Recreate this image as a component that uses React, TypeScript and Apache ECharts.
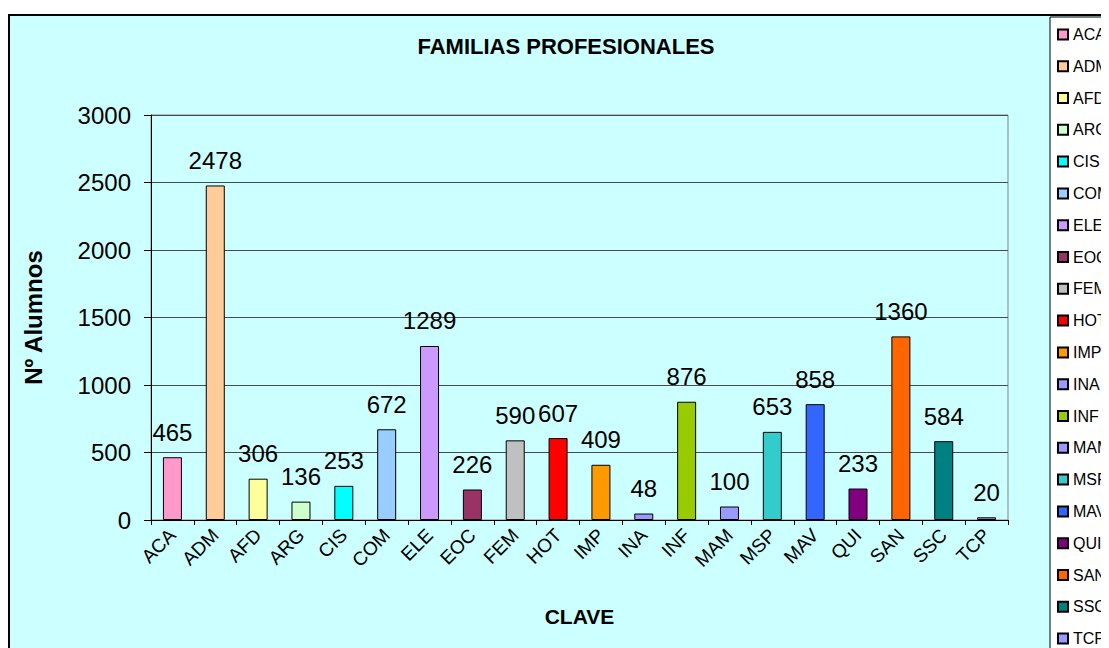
import React, { useEffect, useRef } from "react";
import * as echarts from "echarts";

const categories = ["ACA","ADM","AFD","ARG","CIS","COM","ELE","EOC","FEM","HOT","IMP","INA","INF","MAM","MSP","MAV","QUI","SAN","SSC","TCP"];
const values = [465,2478,306,136,253,672,1289,226,590,607,409,48,876,100,653,858,233,1360,584,20];
const colors = ["#FF99CC","#FFCC99","#FFFF99","#CCFFCC","#00FFFF","#99CCFF","#CC99FF","#993366","#C0C0C0","#FF0000","#FF9900","#9999FF","#99CC00","#9999FF","#33CCCC","#3366FF","#800080","#FF6600","#008080","#9999FF"];
const yTicks = [0, 500, 1000, 1500, 2000, 2500, 3000];

const FONT = "'Liberation Sans', Arial, sans-serif";

export default function App() {
  const ref = useRef<HTMLDivElement>(null);
  useEffect(() => {
    if (!ref.current) return;
    const chart = echarts.init(ref.current, null, { renderer: "svg" });
    const series = categories.map((c, i) => ({
      name: c,
      type: "bar",
      stack: "all",
      barWidth: 19,
      data: categories.map((_, j) => (j === i ? values[i] : "-")),
      itemStyle: { color: colors[i], borderColor: "#000", borderWidth: 1 },
      label: {
        show: true,
        position: "top",
        distance: 13,
        color: "#000",
        fontSize: 24,
        fontFamily: FONT,
      },
      z: 3,
    }));
    chart.setOption({
      animation: false,
      backgroundColor: "#ffffff",
      textStyle: { fontFamily: FONT },
      graphic: [
        {
          type: "rect",
          z: -100,
          silent: true,
          shape: { x: 1, y: 7, width: 1300, height: 900 },
          style: { fill: "#CCFFFF", stroke: "#000", lineWidth: 2 },
        },
        {
          type: "text",
          z: 10,
          x: 558,
          y: 38,
          style: {
            text: "FAMILIAS PROFESIONALES",
            align: "center",
            verticalAlign: "middle",
            font: `bold 22px ${FONT}`,
            fill: "#000",
          },
        },
      ],
      legend: {
        orient: "vertical",
        left: 1042,
        top: 9,
        height: 700,
        padding: [8, 5, 5, 7],
        backgroundColor: "#ffffff",
        borderColor: "#000",
        borderWidth: 1,
        borderRadius: 0,
        itemWidth: 10,
        itemHeight: 10,
        itemGap: 13,
        icon: "rect",
        textStyle: { fontSize: 16, lineHeight: 18.8, color: "#000", fontFamily: FONT },
        data: categories,
      },
      grid: {
        left: 143,
        top: 107,
        right: 101,
        bottom: 128,
        show: true,
        borderColor: "#808080",
        borderWidth: 1,
        backgroundColor: "transparent",
      },
      xAxis: {
        type: "category",
        data: categories,
        name: "CLAVE",
        nameLocation: "middle",
        nameGap: 86,
        nameTextStyle: { fontSize: 21, fontWeight: "bold", color: "#000", fontFamily: FONT },
        axisLine: { lineStyle: { color: "#000", width: 1 } },
        axisTick: { show: true, length: 5, lineStyle: { color: "#000" } },
        axisLabel: { rotate: 45, fontSize: 19, color: "#000", margin: 12, fontFamily: FONT },
      },
      yAxis: {
        type: "value",
        min: yTicks[0],
        max: yTicks[yTicks.length - 1],
        interval: 500,
        name: "Nº Alumnos",
        nameLocation: "middle",
        nameGap: 106,
        nameTextStyle: { fontSize: 24, fontWeight: "bold", color: "#000", fontFamily: FONT },
        axisLine: { show: true, lineStyle: { color: "#000", width: 1 } },
        axisTick: { show: true, length: 7, lineStyle: { color: "#000" } },
        axisLabel: {
          fontSize: 24,
          color: "#000",
          margin: 20,
          fontFamily: FONT,
          formatter: (v: number) => String(v),
        },
        splitLine: { show: true, lineStyle: { color: "#4a4a4a", width: 1 } },
      },
      series,
    });
    return () => chart.dispose();
  }, []);
  return <div ref={ref} style={{ width: 1101, height: 640 }} />;
}
